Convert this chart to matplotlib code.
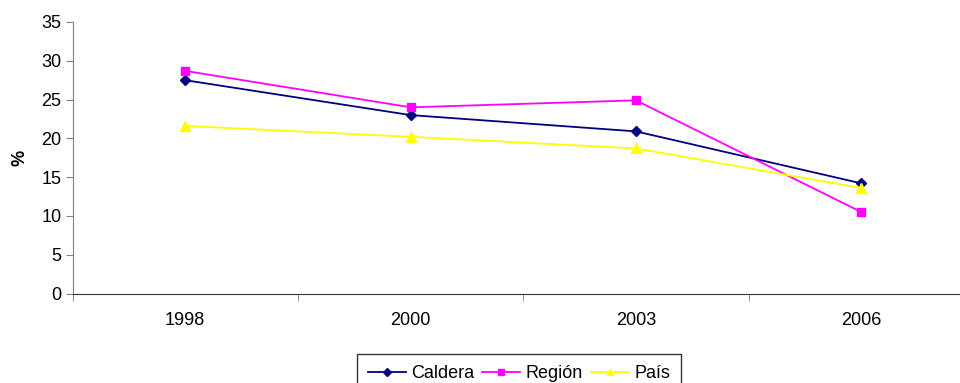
import matplotlib
matplotlib.use("Agg")
import matplotlib.pyplot as plt
import numpy as np

plt.rcParams['font.family'] = ['Liberation Sans', 'DejaVu Sans']

years = ["1998", "2000", "2003", "2006"]
caldera = [27.5, 23.0, 20.9, 14.2]
region = [28.7, 24.0, 24.9, 10.5]
pais = [21.6, 20.2, 18.7, 13.6]

W, H = 960, 383
fig = plt.figure(figsize=(W/100, H/100), dpi=100)
x0, x1 = 72.5, 974
y0, y1 = 293.5, 22
ax = fig.add_axes([x0/W, (H-y0)/H, (x1-x0)/W, (y0-y1)/H])

x = np.arange(len(years))
ax.plot(x, caldera, color='#000080', marker='D', markersize=5.5, lw=1.3, label='Caldera')
ax.plot(x, region, color='#FF00FF', marker='s', markersize=6, lw=1.3, label='Región')
ax.plot(x, pais, color='#FFFF00', marker='^', markersize=7, lw=1.3, label='País')

ax.set_xlim(-0.5, len(years)-0.5)
ax.set_ylim(0, 35)
ax.set_yticks(range(0, 36, 5))
ax.set_xticks(x)
ax.set_xticklabels(years)
ax.set_xticks(np.arange(-0.5, len(years), 1.0), minor=True)
ax.tick_params(axis='x', which='major', length=0, pad=13, labelsize=13)
ax.tick_params(axis='x', which='minor', length=5, direction='out', color='#808080')
ax.tick_params(axis='y', length=5, direction='out', color='#808080', labelsize=13, pad=3)
for s in ['top', 'right']:
    ax.spines[s].set_visible(False)
ax.spines['left'].set_color('#808080')
ax.spines['bottom'].set_color('#333333')
ax.set_ylabel('%', fontsize=13, fontweight='bold', labelpad=9)

leg = fig.legend(loc='upper left', bbox_to_anchor=(357/W, 1-354/H), ncol=3,
                 frameon=True, fontsize=13, handlelength=2.1, columnspacing=0.45,
                 handletextpad=0.3, borderpad=0.6, borderaxespad=0, fancybox=False,
                 markerscale=0.7)
leg.get_frame().set_edgecolor('black')
leg.get_frame().set_linewidth(1.0)

fig.savefig('out.png', dpi=100)
